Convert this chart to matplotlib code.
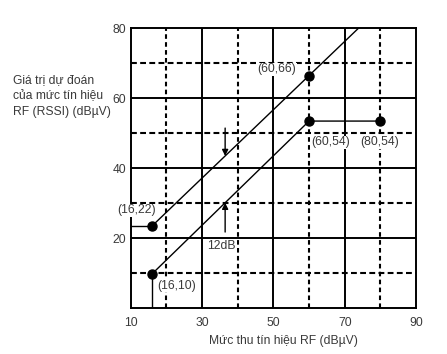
import matplotlib
matplotlib.use("Agg")
import matplotlib.pyplot as plt
import numpy as np

plt.rcParams['font.family'] = ['Liberation Sans', 'DejaVu Sans']

# data
upper_x = [16, 60]
upper_y = [23.5, 66.5]
lower_x = [16, 60, 80]
lower_y = [9.8, 53.5, 53.5]
point_labels = ["(16,22)", "(60,66)", "(16,10)", "(60,54)", "(80,54)"]
x_ticks = [10, 30, 50, 70, 90]
y_ticks = [20, 40, 60, 80]
solid_x = [30, 50, 70]
dashed_x = [20, 40, 60, 80]
solid_y = [20, 40, 60]
dashed_y = [10, 30, 50, 70]
arrow_x = 36.5
gap_label = "12dB"

txt = '#3a3a3a'
fs = 8.7
fig = plt.figure(figsize=(4.47, 3.54), dpi=100)
ax = fig.add_axes([0.292, 0.129, 0.639, 0.791])
ax.set_xlim(10, 90)
ax.set_ylim(0, 80)

for v in solid_x:
    ax.axvline(v, color='black', lw=1.4, zorder=1)
for v in dashed_x:
    ax.axvline(v, color='black', lw=1.5, ls=(0, (2.2, 1.6)), zorder=1)
for v in solid_y:
    ax.axhline(v, color='black', lw=1.4, zorder=1)
for v in dashed_y:
    ax.axhline(v, color='black', lw=1.5, ls=(0, (2.8, 1.6)), zorder=1)

# upper line, extended toward the top edge
slope = (upper_y[1] - upper_y[0]) / (upper_x[1] - upper_x[0])
ext_x = 90
ext_y = upper_y[1] + slope * (ext_x - upper_x[1])
ax.plot([10, upper_x[0]], [upper_y[0], upper_y[0]], color='black', lw=1.0, zorder=2)
ax.plot([upper_x[0], upper_x[1], ext_x], [upper_y[0], upper_y[1], ext_y], color='black', lw=1.0, zorder=2)
ax.plot(upper_x, upper_y, 'o', color='black', ms=6.5, zorder=3)

# lower line
ax.plot([lower_x[0], lower_x[0]], [0, lower_y[0]], color='black', lw=1.0, zorder=2)
ax.plot(lower_x, lower_y, color='black', lw=1.0, zorder=2)
ax.plot(lower_x, lower_y, 'o', color='black', ms=6.5, zorder=3)

# arrows
ya = upper_y[0] + slope * (arrow_x - upper_x[0])
lslope = (lower_y[1] - lower_y[0]) / (lower_x[1] - lower_x[0])
yb = lower_y[0] + lslope * (arrow_x - lower_x[0])
ax.annotate('', xy=(arrow_x, ya), xytext=(arrow_x, 51.5),
            arrowprops=dict(arrowstyle='-|>', color='black', lw=1.0, mutation_scale=9, shrinkA=0, shrinkB=0), zorder=4)
ax.annotate('', xy=(arrow_x, yb), xytext=(arrow_x, 21.8),
            arrowprops=dict(arrowstyle='-|>', color='black', lw=1.0, mutation_scale=9, shrinkA=0, shrinkB=0), zorder=4)
ax.text(35.5, 17.7, gap_label, ha='center', va='center', fontsize=fs, color=txt,
        bbox=dict(facecolor='white', edgecolor='none', pad=0.5), zorder=5)

# point labels
label_pos = [(11.6, 28.0), (50.9, 68.3), (22.9, 6.5), (66.0, 47.4), (79.8, 47.4)]
for (lx, ly), s in zip(label_pos, point_labels):
    ax.text(lx, ly, s, ha='center', va='center', fontsize=fs, color=txt,
            bbox=dict(facecolor='white', edgecolor='none', pad=0.5), zorder=5)

ax.set_xticks(x_ticks)
ax.set_yticks(y_ticks)
ax.tick_params(length=0, labelsize=fs, labelcolor=txt)
ax.tick_params(axis='y', pad=3)
ax.tick_params(axis='x', pad=6)
for s in ax.spines.values():
    s.set_linewidth(1.4)

fig.text(283 / 447, 1 - 341 / 354, "Mức thu tín hiệu RF (dBµV)", ha='center', va='center', fontsize=fs, color=txt)
fig.text(13 / 447, 1 - 96 / 354, "Giá trị dự đoán\ncủa mức tín hiệu\nRF (RSSI) (dBµV)", ha='left', va='center',
         fontsize=fs, color=txt, linespacing=1.4)

fig.savefig("out.png", dpi=100)
